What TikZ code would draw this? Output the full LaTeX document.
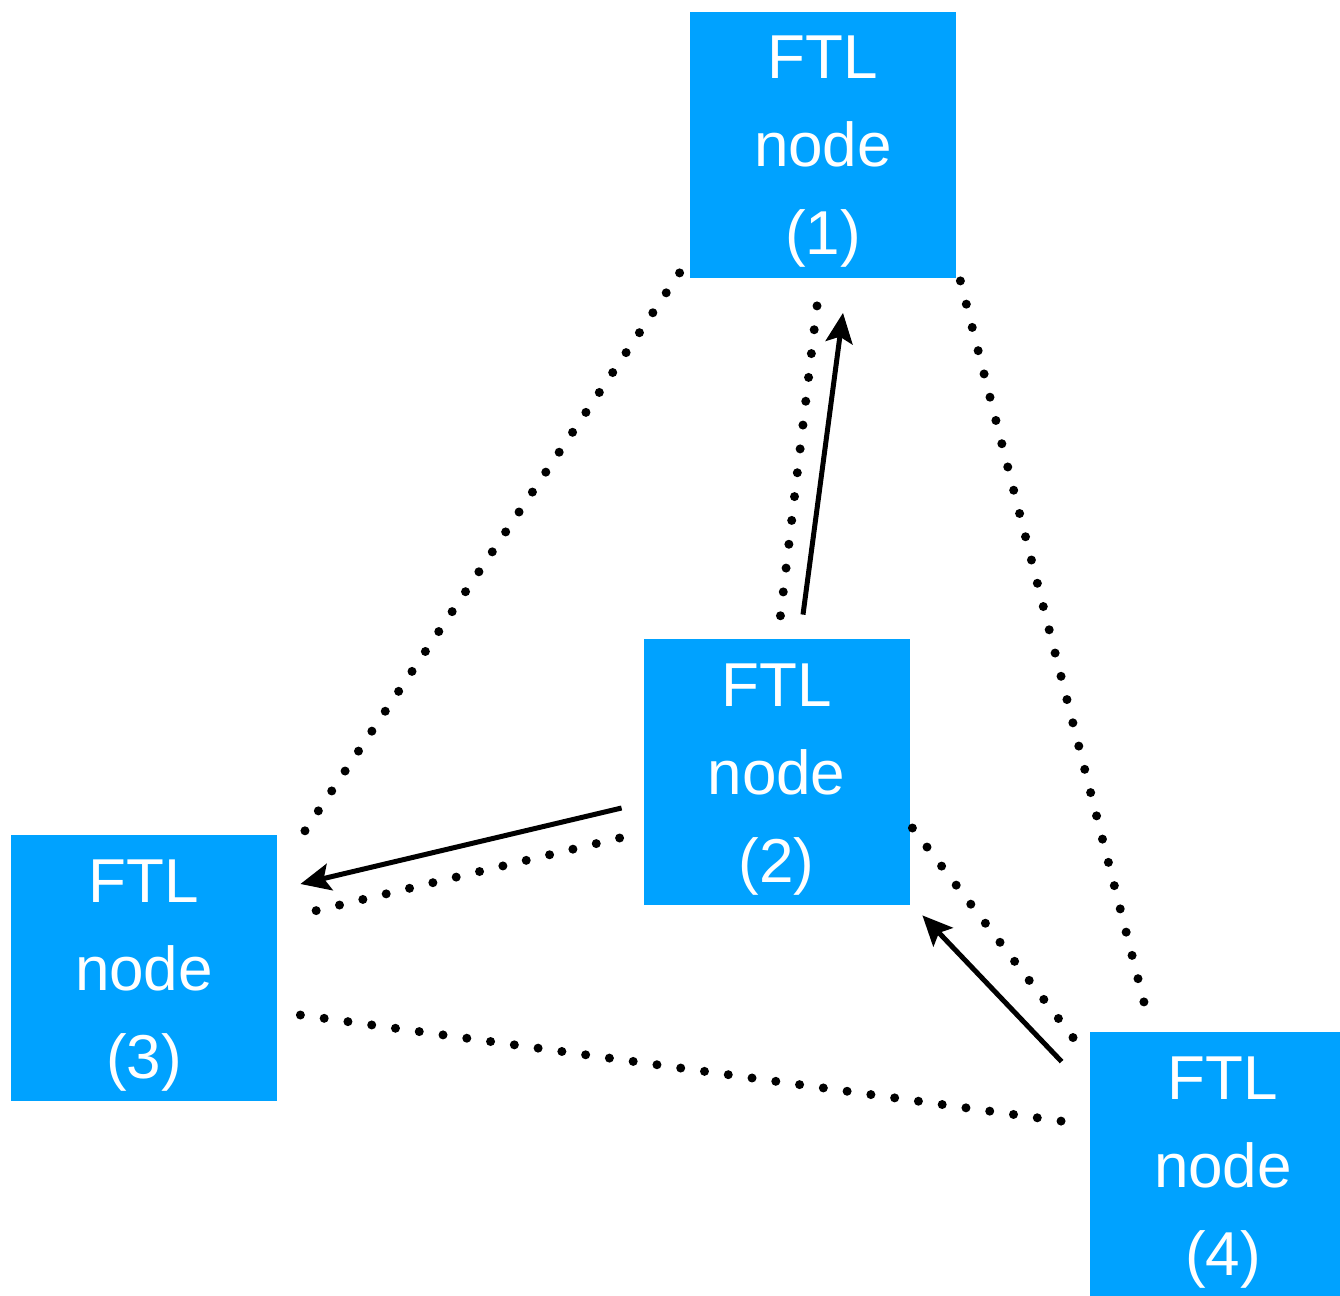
\documentclass[tikz,border=0pt]{standalone}
\usepackage{fontspec}
\setmainfont{Liberation Sans}
\usetikzlibrary{calc,arrows.meta}
\definecolor{ftlblue}{RGB}{0,162,255}
\newcommand\ftltext[1]{\rule{0pt}{28.5pt}FTL\\node\\(#1)}
\begin{document}
\begin{tikzpicture}[x=0.5pt,y=-0.5pt,
 ftlnode/.style={fill=ftlblue,text=white,minimum width=133pt,minimum height=133pt,inner sep=0pt,align=center,font=\fontsize{31}{44}\selectfont},
 link/.style={line width=4.5pt,line cap=round,dash pattern=on 0pt off 12pt},
 msg/.style={line width=2.5pt,-{Stealth[length=15pt,width=13.5pt,inset=3pt]}}]
 \useasboundingbox (0,0) rectangle (1340,1296);
 \node[ftlnode] (n1) at (823,144.5) {\ftltext{1}};
 \node[ftlnode] (n2) at (776.5,772) {\ftltext{2}};
 \node[ftlnode] (n3) at (144,968) {\ftltext{3}};
 \node[ftlnode] (n4) at (1223,1165) {\ftltext{4}};
 \draw[link] ($(n1.south west)+(-10,-5)$) -- ($(n3.north east)+(23,3)$);
 \draw[link] ($(n1.south)+(-6,28)$) -- ($(n2.north)+(3.5,-19)$);
 \draw[link] ($(n1.south east)+(4,3)$) -- ($(n4.north west)+(55,-27)$);
 \draw[link] ($(n2.west)+(-23.5,66)$) -- ($(n3.east)+(33,-56)$);
 \draw[link] ($(n2.east)+(2.5,56)$) -- ($(n4.north west)+(-15,8)$);
 \draw[link] ($(n3.east)+(23,47)$) -- ($(n4.west)+(-22,-43)$);
 \draw[msg] ($(n2.north)+(26.5,-24)$) -- ($(n1.south)+(20,35)$);
 \draw[msg] ($(n2.west)+(-21.5,36)$) -- ($(n3.east)+(23,-84)$);
 \draw[msg] ($(n4.north west)+(-28,30)$) -- ($(n2.south east)+(12.5,10)$);
\end{tikzpicture}
\end{document}
